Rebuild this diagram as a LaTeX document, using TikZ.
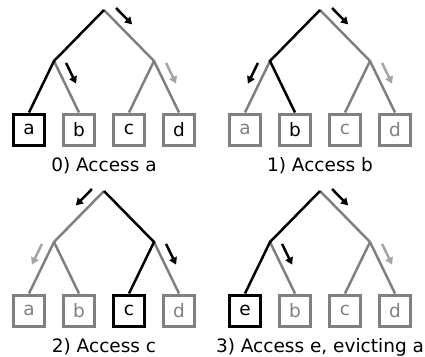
\documentclass[tikz,border=0pt]{standalone}
\usepackage{fontspec}
\setmainfont{DejaVu Sans}
\usetikzlibrary{calc,arrows.meta}

\definecolor{treegray}{RGB}{128,128,128}
\definecolor{bitgray}{RGB}{165,165,165}

\tikzset{
  leaf/.style={draw,rectangle,line width=3pt,minimum size=31pt,inner sep=0pt},
  hot/.style={draw=black,text=black},
  cold/.style={draw=treegray,text=black},
  old/.style={draw=treegray,text=treegray},
  edge/.style={line width=2.5pt,treegray},
  used/.style={line width=2.5pt,black},
  bit/.style={-{Triangle[length=7pt,width=8pt]},line width=2.5pt},
}

\begin{document}
\begin{tikzpicture}[x=1pt,y=-1pt,font=\fontsize{18.5}{22}\selectfont]
\useasboundingbox (0,0) rectangle (425,356);

% 0) access a
\coordinate (root0) at (104,10);
\coordinate (l0) at (54,61);
\coordinate (r0) at (154,61);
\node[leaf,hot]  (a0) at (29,129.5) {a};
\node[leaf,cold] (b0) at (79,129.5) {b};
\node[leaf,cold] (c0) at (129,129.5) {c};
\node[leaf,cold] (d0) at (179,129.5) {d};
\node (cap0) at (104,166) {0) Access a};

\draw[edge] (root0) -- (r0);
\draw[edge] (l0) -- (b0.north);
\draw[edge] (r0) -- (c0.north);
\draw[edge] (r0) -- (d0.north);
\draw[used] (root0) -- (l0) -- (a0.north);

\draw[bit] ($(root0)!7pt!(r0)!10pt!90:(r0)$) -- ($(root0)!30pt!(r0)!10pt!90:(r0)$);
\draw[bit] ($(l0)!7pt!(b0.north)!10pt!90:(b0.north)$) -- ($(l0)!30pt!(b0.north)!10pt!90:(b0.north)$);
\draw[bit,bitgray] ($(r0)!7pt!(d0.north)!10pt!90:(d0.north)$) -- ($(r0)!30pt!(d0.north)!10pt!90:(d0.north)$);

% 1) access b
\begin{scope}[shift={(216,0)}]
\coordinate (root1) at (104,10);
\coordinate (l1) at (54,61);
\coordinate (r1) at (154,61);
\node[leaf,old]  (a1) at (29,129.5) {a};
\node[leaf,cold] (b1) at (79,129.5) {b};
\node[leaf,old]  (c1) at (129,129.5) {c};
\node[leaf,old]  (d1) at (179,129.5) {d};
\node (cap1) at (104,166) {1) Access b};

\draw[edge] (root1) -- (r1);
\draw[edge] (l1) -- (a1.north);
\draw[edge] (r1) -- (c1.north);
\draw[edge] (r1) -- (d1.north);
\draw[used] (root1) -- (l1) -- (b1.north);

\draw[bit] ($(root1)!7pt!(r1)!10pt!90:(r1)$) -- ($(root1)!30pt!(r1)!10pt!90:(r1)$);
\draw[bit] ($(l1)!7pt!(a1.north)!10pt!-90:(a1.north)$) -- ($(l1)!30pt!(a1.north)!10pt!-90:(a1.north)$);
\draw[bit,bitgray] ($(r1)!7pt!(d1.north)!10pt!90:(d1.north)$) -- ($(r1)!30pt!(d1.north)!10pt!90:(d1.north)$);
\end{scope}

% 2) access c
\begin{scope}[shift={(0,181)}]
\coordinate (root2) at (104,10);
\coordinate (l2) at (54,61);
\coordinate (r2) at (154,61);
\node[leaf,old] (a2) at (29,129.5) {a};
\node[leaf,old] (b2) at (79,129.5) {b};
\node[leaf,hot] (c2) at (129,129.5) {c};
\node[leaf,old] (d2) at (179,129.5) {d};
\node (cap2) at (104,166) {2) Access c};

\draw[edge] (root2) -- (l2);
\draw[edge] (l2) -- (a2.north);
\draw[edge] (l2) -- (b2.north);
\draw[edge] (r2) -- (d2.north);
\draw[used] (root2) -- (r2) -- (c2.north);

\draw[bit] ($(root2)!7pt!(l2)!10pt!-90:(l2)$) -- ($(root2)!30pt!(l2)!10pt!-90:(l2)$);
\draw[bit,bitgray] ($(l2)!7pt!(a2.north)!10pt!-90:(a2.north)$) -- ($(l2)!30pt!(a2.north)!10pt!-90:(a2.north)$);
\draw[bit] ($(r2)!7pt!(d2.north)!10pt!90:(d2.north)$) -- ($(r2)!30pt!(d2.north)!10pt!90:(d2.north)$);
\end{scope}

% 3) access e, evicting a
\begin{scope}[shift={(216,181)}]
\coordinate (root3) at (104,10);
\coordinate (l3) at (54,61);
\coordinate (r3) at (154,61);
\node[leaf,hot] (e3) at (29,129.5) {e};
\node[leaf,old] (b3) at (79,129.5) {b};
\node[leaf,old] (c3) at (129,129.5) {c};
\node[leaf,old] (d3) at (179,129.5) {d};
\node (cap3) at (104,166) {3) Access e, evicting a};

\draw[edge] (root3) -- (r3);
\draw[edge] (l3) -- (b3.north);
\draw[edge] (r3) -- (c3.north);
\draw[edge] (r3) -- (d3.north);
\draw[used] (root3) -- (l3) -- (e3.north);

\draw[bit] ($(root3)!7pt!(r3)!10pt!90:(r3)$) -- ($(root3)!30pt!(r3)!10pt!90:(r3)$);
\draw[bit] ($(l3)!7pt!(b3.north)!10pt!90:(b3.north)$) -- ($(l3)!30pt!(b3.north)!10pt!90:(b3.north)$);
\draw[bit,bitgray] ($(r3)!7pt!(d3.north)!10pt!90:(d3.north)$) -- ($(r3)!30pt!(d3.north)!10pt!90:(d3.north)$);
\end{scope}
\end{tikzpicture}
\end{document}
